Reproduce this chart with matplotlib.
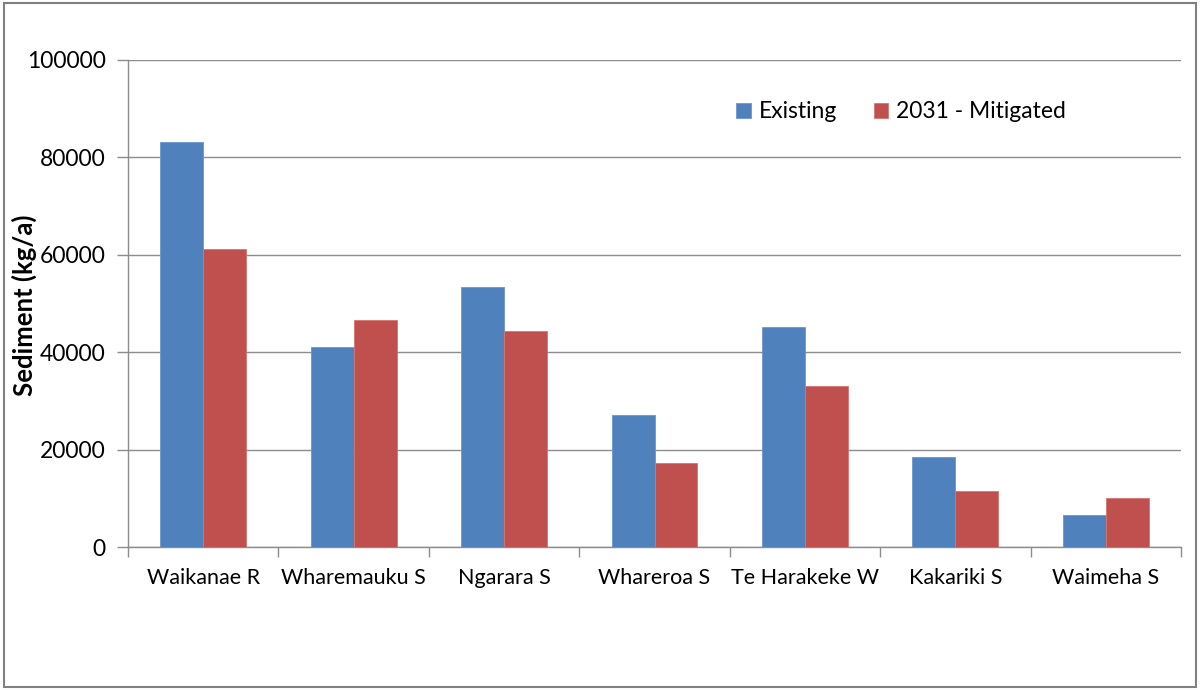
import matplotlib.pyplot as plt
import numpy as np
from matplotlib.patches import Rectangle
from matplotlib.ticker import MultipleLocator, FixedLocator

plt.rcParams['font.family'] = ['Lato', 'DejaVu Sans']

# data
sites = ["Waikanae R", "Wharemauku S", "Ngarara S", "Whareroa S",
         "Te Harakeke W", "Kakariki S", "Waimeha S"]
existing = [83100, 41000, 53400, 27200, 45200, 18400, 6500]
mitigated = [61100, 46700, 44400, 17200, 33100, 11400, 10000]
series_names = ["Existing", "2031 - Mitigated"]

blue = "#4F81BD"
red = "#C0504D"
grid_col = "#8c8c8c"

fig = plt.figure(figsize=(12, 6.9), dpi=100)
ax = fig.add_axes([128 / 1200, 1 - 547 / 690, (1181 - 128) / 1200, (547 - 60) / 690])

x = np.arange(len(sites))
w = 1 / 3.5
ax.bar(x - w / 2, existing, w, color=blue, edgecolor="#6b97cc", linewidth=0.6,
       label=series_names[0], zorder=3)
ax.bar(x + w / 2, mitigated, w, color=red, edgecolor="#d77470", linewidth=0.6,
       label=series_names[1], zorder=3)

ax.set_xlim(-0.5, len(sites) - 0.5)
ax.set_ylim(0, 100000)
ax.yaxis.set_major_locator(MultipleLocator(20000))
ax.grid(axis="y", color=grid_col, linewidth=1.0, zorder=0)

ax.set_xticks(x)
ax.set_xticklabels(sites, fontsize=15.5)
ax.xaxis.set_minor_locator(FixedLocator(np.arange(-0.5, len(sites), 1.0)))
ax.tick_params(axis="x", which="major", length=0, pad=15)
ax.tick_params(axis="x", which="minor", length=7, color=grid_col, width=1)
ax.tick_params(axis="y", length=8, color=grid_col, width=1, labelsize=16.5, pad=8)

for s in ["top", "right"]:
    ax.spines[s].set_visible(False)
for s in ["left", "bottom"]:
    ax.spines[s].set_color(grid_col)
    ax.spines[s].set_linewidth(1.0)

fig.text(24 / 1200, 1 - 305 / 690, "Sediment (kg/a)", rotation=90,
         ha="center", va="center", fontsize=18.5, fontweight="bold")

fig.legend(loc="center", bbox_to_anchor=(901 / 1200, 1 - 112 / 690), ncol=2,
           frameon=False, fontsize=16.5, handlelength=0.65, handleheight=0.65,
           handletextpad=0.35, columnspacing=1.6)

fig.patches.append(Rectangle((0.003, 0.004), 0.994, 0.992, transform=fig.transFigure,
                             fill=False, edgecolor="#808080", linewidth=1.5))

fig.savefig("out.png", dpi=100)
